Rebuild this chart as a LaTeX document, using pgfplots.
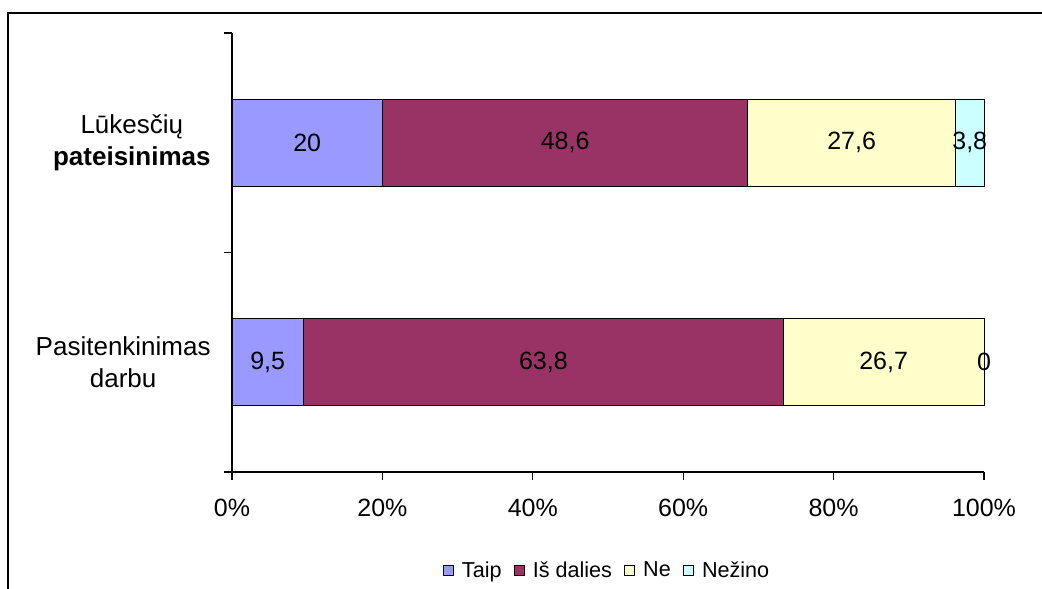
\documentclass[border=0pt]{standalone}
\usepackage{pgfplots}
\pgfplotsset{compat=1.18}
\usepackage{pgfplotstable}
\usepackage{fontspec}
\setmainfont{Liberation Sans}

\definecolor{taip}{HTML}{9999FF}
\definecolor{dalies}{HTML}{993366}
\definecolor{ne}{HTML}{FFFFCC}
\definecolor{nezino}{HTML}{CCFFFF}

% pos: 0.5 = Pasitenkinimas darbu, 1.5 = Lukesciu pateisinimas; v: share in percent
\pgfplotstableread{
pos v
0.5 9.5
1.5 20
}\taip
\pgfplotstableread{
pos v
0.5 63.8
1.5 48.6
}\dalies
\pgfplotstableread{
pos v
0.5 26.7
1.5 27.6
}\ne
\pgfplotstableread{
pos v
0.5 0
1.5 3.8
}\nezino

\begin{document}
\begin{tikzpicture}
\useasboundingbox (0,0) rectangle (521pt,294pt);
\draw[line width=0.9pt] (4pt,-20pt) rectangle (540pt,287.5pt);
\begin{axis}[
  at={(116pt,58pt)}, anchor=south west,
  scale only axis, width=376pt, height=219.5pt,
  xbar stacked, bar width=43.5pt,
  xmin=0, xmax=100, ymin=0, ymax=2,
  clip=false,
  axis lines*=left, axis line style={-, line width=0.6pt},
  tick align=outside, major tick length=4pt,
  tick style={black, line width=0.6pt},
  xtick={0,20,...,100},
  xticklabel={\pgfmathprintnumber{\tick}\%},
  /pgf/number format/assume math mode=true,
  xticklabel style={font=\fontsize{12.5}{15}\selectfont, yshift=-6pt},
  ytick={0,1,2}, yticklabels={,,},
  extra y ticks={0.5,1.5},
  extra y tick labels={{Pasitenkinimas\\darbu},{Lūkesčių\\\textbf{pateisinimas}}},
  extra y tick style={tick style={draw=none}},
  yticklabel style={align=center, inner sep=0pt, xshift=-6.5pt,
    font=\fontsize{13}{16}\selectfont},
  point meta=explicit symbolic,
  nodes near coords={\pgfmathprintnumber[use comma]{\pgfplotspointmeta}},
  every node near coord/.style={anchor=center, black,
    font=\fontsize{12.5}{15}\selectfont},
  legend style={at={(0.5,-0.225)}, anchor=center, draw=none, fill=none,
    legend columns=-1, font=\fontsize{10.8}{13}\selectfont,
    /tikz/every even column/.append style={column sep=4pt}},
  legend image code/.code={\draw[#1, draw=black, line width=0.7pt] (0pt,-2.5pt) rectangle (5pt,2.5pt);
    \path (7pt,0pt);},
]
\addplot[fill=taip, draw=black, line width=0.5pt] table[x=v, y=pos, meta=v] {\taip};
\addplot[fill=dalies, draw=black, line width=0.5pt] table[x=v, y=pos, meta=v] {\dalies};
\addplot[fill=ne, draw=black, line width=0.5pt] table[x=v, y=pos, meta=v] {\ne};
\addplot[fill=nezino, draw=black, line width=0.5pt] table[x=v, y=pos, meta=v] {\nezino};
\legend{Taip, Iš dalies, Ne, Nežino}
% end of the lower bar, where its empty "Nežino" segment sits
\coordinate (zero) at (axis cs:100,0.5);
\end{axis}
\node[font=\fontsize{12.5}{15}\selectfont] at (zero) {0};
\end{tikzpicture}
\end{document}
